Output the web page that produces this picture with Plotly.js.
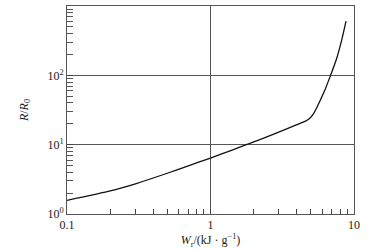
<!DOCTYPE html>
<html><head><meta charset="utf-8">
<script src="https://cdn.plot.ly/plotly-3.0.1.min.js"></script>
<style>html,body{margin:0;padding:0;background:#fff}</style>
</head><body>
<div id="chart" style="width:392px;height:250px"></div>
<script>
// Data
const energy = [0.1, 0.2, 0.3, 0.5, 0.7, 1.0, 1.4, 1.9, 2.9, 4.0, 4.6, 4.9, 5.2, 5.5, 5.8, 6.3, 6.8, 7.5, 8.2, 8.8];
const ratio  = [1.57, 2.15, 2.73, 3.87, 4.95, 6.4, 8.3, 10.5, 14.8, 19.5, 21.9, 23.8, 27.5, 34, 43, 63, 95, 165, 320, 605];

const xTickVals = [0.1, 1, 10];
const xTickText = ['0.1', '1', '10'];
const yTickVals = [1, 10, 100];
const yTickText = ['10<sup>0</sup>', '10<sup>1</sup>', '10<sup>2</sup>'];
const xMinor = [0.2,0.3,0.4,0.5,0.6,0.7,0.8,0.9,2,3,4,5,6,7,8,9];
const yMinor = [2,3,4,5,6,7,8,9,20,30,40,50,60,70,80,90,200,300,400,500,600,700,800,900];

const font = {family: '"Liberation Serif", "Times New Roman", serif', size: 12, color: '#222'};

Plotly.newPlot('chart', [{
  x: energy, y: ratio, type: 'scatter', mode: 'lines',
  line: {color: '#111', width: 1.3, shape: 'spline', smoothing: 0.5},
  hoverinfo: 'none'
}], {
  width: 392, height: 250,
  margin: {l: 67, r: 38, t: 6, b: 36},
  paper_bgcolor: '#fff', plot_bgcolor: '#fff',
  showlegend: false,
  font: font,
  xaxis: {
    type: 'log', range: [-1, 1],
    tickmode: 'array', tickvals: xTickVals, ticktext: xTickText,
    ticks: 'inside', ticklen: 5, tickcolor: '#444',
    showline: true, linecolor: '#555', linewidth: 1, mirror: true,
    showgrid: true, gridcolor: '#555', gridwidth: 1,
    zeroline: false,
    minor: {tickvals: xMinor, ticks: 'inside', ticklen: 5, tickcolor: '#444', showgrid: false},
    title: {text: '<i>W</i><sub>r</sub>/(kJ · g<sup>−1</sup>)', font: font, standoff: 2}
  },
  yaxis: {
    type: 'log', range: [0, 3],
    tickmode: 'array', tickvals: yTickVals, ticktext: yTickText,
    ticks: 'inside', ticklen: 6, tickcolor: '#444',
    showline: true, linecolor: '#555', linewidth: 1, mirror: true,
    showgrid: true, gridcolor: '#555', gridwidth: 1,
    zeroline: false,
    minor: {tickvals: yMinor, ticks: 'inside', ticklen: 6, tickcolor: '#555', showgrid: false},
    title: {text: '<i>R</i>/<i>R</i><sub>0</sub>', font: font, standoff: 16}
  }
}, {staticPlot: true});
</script>
</body></html>
